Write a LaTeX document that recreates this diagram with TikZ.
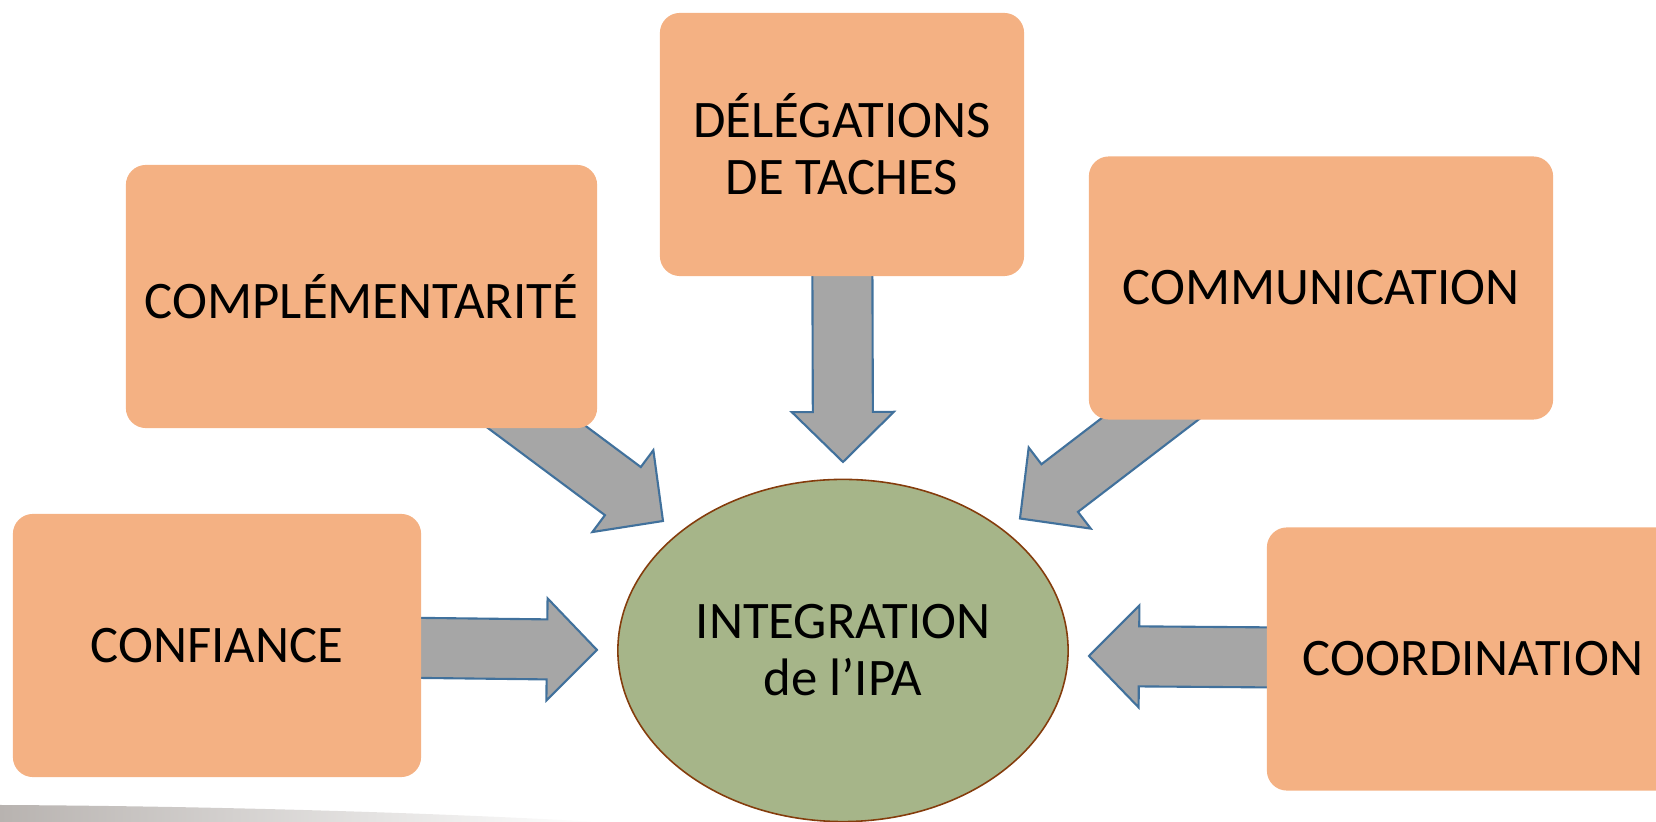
\documentclass[tikz,border=0pt]{standalone}
\usepackage{fontspec}
\setmainfont{Carlito}
\usetikzlibrary{shapes,arrows,calc,backgrounds}
\usetikzlibrary{positioning}
\definecolor{boxorange}{HTML}{F4B183}
\definecolor{ipagreen}{HTML}{A6B589}
\definecolor{ipaborder}{HTML}{843C0C}
\definecolor{arrowgray}{HTML}{A6A6A6}
\definecolor{arrowblue}{HTML}{41719C}
\definecolor{bandgray}{HTML}{B8B3B0}
\tikzstyle{block} = [rectangle, fill=boxorange, rounded corners=0.2cm,
    minimum height=2.63cm, inner sep=0pt, align=center,
    font=\fontsize{15}{16.2}\selectfont]
\tikzstyle{core} = [ellipse, draw=ipaborder, fill=ipagreen, line width=0.45pt,
    minimum width=4.5cm, minimum height=3.42cm, inner sep=0pt, align=center,
    font=\fontsize{15}{16.2}\selectfont]
\tikzstyle{bigline} = [draw=arrowblue, fill=arrowgray, line width=0.6pt]
\newcommand{\shaftw}{0.3cm}
\newcommand{\headw}{0.51cm}
\newcommand{\headlen}{0.5cm}
% block arrow from the centre of #1 to the tip #2
\newcommand{\bigarrow}[2]{%
    \coordinate (hb) at ($(#2)!\headlen!(#1)$);
    \path [bigline] ($(#1)!\shaftw!90:(#2)$) -- ($(hb)!\shaftw!90:(#2)$)
        -- ($(hb)!\headw!90:(#2)$) -- (#2) -- ($(hb)!\headw!-90:(#2)$)
        -- ($(hb)!\shaftw!-90:(#2)$) -- ($(#1)!\shaftw!-90:(#2)$) -- cycle;}

\begin{document}
\begin{tikzpicture}[x=0.01cm, y=-0.01cm]
    \useasboundingbox (0,0) rectangle (1656,822);
    \clip (0,0) rectangle (1656,822);
    \shade [left color=bandgray, right color=white]
        (0,805) .. controls (200,806) and (420,812) .. (600,822) -- (0,822) -- cycle;

    % Place nodes
    \node [core] (ipa) at (843,650.5) {INTEGRATION\\de l’IPA};
    \node [block, minimum width=3.64cm] (deleg) at (842,144.5) {DÉLÉGATIONS\\DE TACHES};
    \node [block, minimum width=4.71cm] (compl) at (361.5,296.5) {COMPLÉMENTARITÉ};
    \node [block, minimum width=4.64cm] (comm) at (1321,288) {COMMUNICATION};
    \node [block, minimum width=4.08cm] (conf) at (217,645.5) {CONFIANCE};
    \node [block, minimum width=4.12cm] (coord) at (1473,659) {COORDINATION};

    % Arrow tips
    \coordinate (tdeleg) at (843,462);
    \coordinate (tcompl) at (663,521);
    \coordinate (tcomm) at (1020,518.5);
    \coordinate (tconf) at (597,650);
    \coordinate (tcoord) at (1089,656);

    % Draw edges
    \begin{scope}[on background layer]
        \bigarrow{deleg}{tdeleg}
        \bigarrow{compl}{tcompl}
        \bigarrow{comm}{tcomm}
        \bigarrow{conf}{tconf}
        \bigarrow{coord}{tcoord}
    \end{scope}
\end{tikzpicture}
\end{document}
